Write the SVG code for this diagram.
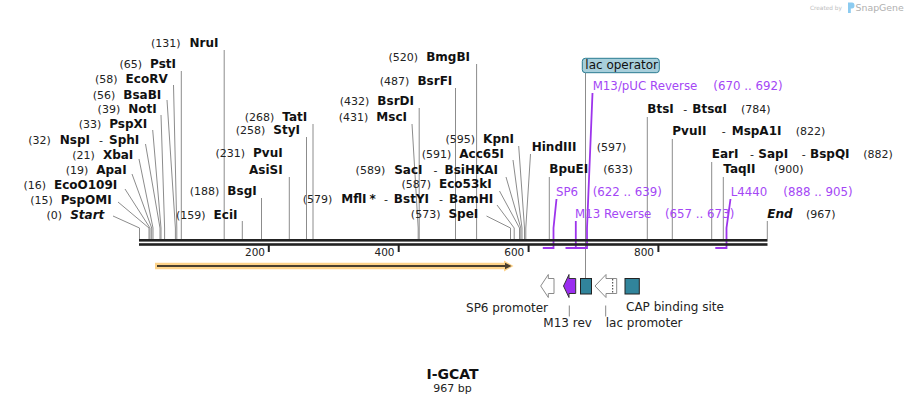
<svg xmlns="http://www.w3.org/2000/svg" width="907" height="405" viewBox="0 0 907 405">
<style>
text{font-family:"DejaVu Sans",Verdana,sans-serif;}
.n{font-size:11px;fill:#222}
.b{font-size:12px;font-weight:bold;fill:#111}
.bi{font-size:12px;font-weight:bold;font-style:italic;fill:#111}
.p{font-size:11.8px;fill:#a447f5}
.f{font-size:12px;fill:#222}
.ax{font-size:10.5px;fill:#222}
.ln{stroke:#8c8c8c;stroke-width:1;fill:none}
.pl{stroke:#9d34ec;stroke-width:1.8;fill:none}
.tk{stroke:#888;stroke-width:1;fill:none}
.teal{fill:#31849b;stroke:#222;stroke-width:1}
.wa{fill:#fff;stroke:#8a8a8a;stroke-width:1}
</style>
<rect width="907" height="405" fill="#fff"/>

<g id="credit">
<text x="810" y="10" style="font-size:5.8px;fill:#bdbdbd">Created by</text>
<path d="M848,2.5 h4 q2.5,0 2.5,3 q0,3 -2.5,3 h-1.2 v4.5 h-2.8 z" fill="#8ccbf0"/>
<text x="855.5" y="11" style="font-size:9.4px;fill:#b0b0b0">SnapGene</text>
</g>

<g id="connectors">
<polyline class="ln" points="113,216 139.5,228 139.5,239"/>
<polyline class="ln" points="118,202 149,228 149,239"/>
<polyline class="ln" points="125,189 150,228 150,239"/>
<polyline class="ln" points="132,174 151.7,228 151.7,239"/>
<polyline class="ln" points="139,159 153,228 153,239"/>
<polyline class="ln" points="145.5,144 160,228 160,239"/>
<polyline class="ln" points="152.7,130 161,228 161,239"/>
<polyline class="ln" points="161,115 164.6,228 164.6,239"/>
<polyline class="ln" points="167,100 175.4,228 175.4,239"/>
<polyline class="ln" points="173.5,85 176.8,228 176.8,239"/>
<polyline class="ln" points="181.3,71 181.3,239"/>
<polyline class="ln" points="224.2,50 224.2,239"/>
<polyline class="ln" points="242.3,221 242.3,239"/>
<polyline class="ln" points="261.5,198 261.5,239"/>
<polyline class="ln" points="289.3,177 289.3,239"/>
<polyline class="ln" points="306.5,137 306.5,239"/>
<polyline class="ln" points="313,124 313,239"/>
<polyline class="ln" points="412,124 418.2,228 418.2,239"/>
<polyline class="ln" points="419.2,108 419.2,239"/>
<polyline class="ln" points="455.5,88 455.5,239"/>
<polyline class="ln" points="476.6,64 476.6,239"/>
<polyline class="ln" points="486.5,216 510.5,228 510.5,239"/>
<polyline class="ln" points="497,205 514.2,228 514.2,239"/>
<polyline class="ln" points="499.5,191 519.5,228 519.5,239"/>
<polyline class="ln" points="506,177 520.8,228 520.8,239"/>
<polyline class="ln" points="513,160 522,228 522,239"/>
<polyline class="ln" points="518.7,146 524.5,228 524.5,239"/>
<polyline class="ln" points="530.5,154 525.8,228 525.8,239"/>
<polyline class="ln" points="549.3,177 549.3,239"/>
<polyline class="ln" points="647.3,117 647.3,239"/>
<polyline class="ln" points="672.3,139 672.3,239"/>
<polyline class="ln" points="711.7,162 711.7,239"/>
<polyline class="ln" points="723.3,177 723.3,239"/>
<polyline class="ln" points="767.3,221 767.3,239"/>
<line class="ln" x1="585.5" y1="73" x2="585.5" y2="278"/>
<line class="tk" x1="569.3" y1="305.5" x2="569.3" y2="316.5"/>
<line class="tk" x1="605.7" y1="305.5" x2="605.7" y2="316.5"/>
<path class="pl" d="M592.5,93 L587,228 L587,248 L573.9,248"/>
<path class="pl" d="M575.8,221 L575.8,248 L565.5,248"/>
<path class="pl" d="M556.5,199 L553.5,228 L553.5,248 L542.8,248"/>
<path class="pl" d="M730.5,199 L726.5,228 L726.5,248 L715.3,248"/>
</g>

<g id="axis">
<rect x="139" y="239" width="628.5" height="2.6" fill="#222"/>
<rect x="139" y="243.2" width="628.5" height="2.6" fill="#222"/>
<rect x="267.8" y="245" width="2" height="7" fill="#222"/>
<rect x="397.7" y="245" width="2" height="7" fill="#222"/>
<rect x="527.6" y="245" width="2" height="7" fill="#222"/>
<rect x="657.4" y="245" width="2" height="7" fill="#222"/>
<text class="ax" x="265" y="255.7" text-anchor="end">200</text>
<text class="ax" x="394.5" y="255.7" text-anchor="end">400</text>
<text class="ax" x="524.3" y="255.7" text-anchor="end">600</text>
<text class="ax" x="654" y="255.7" text-anchor="end">800</text>
</g>

<g id="orf">
<polygon points="155,262.7 504,262.7 504,260.5 513.5,266 504,271.5 504,269.3 155,269.3" fill="#fdd38a"/>
<line x1="157" y1="266" x2="506" y2="266" stroke="#4a3f2e" stroke-width="1.8"/>
<polygon points="505,262.8 511.5,266 505,269.2" fill="#4a3f2e"/>
</g>

<g id="site-Start"><text x="104.3" y="218.7" text-anchor="end"><tspan class="n">(0)</tspan><tspan class="bi" dx="8">Start</tspan></text></g>
<g id="site-PspOMI"><text x="111.7" y="204" text-anchor="end"><tspan class="n">(15)</tspan><tspan class="b" dx="8">PspOMI</tspan></text></g>
<g id="site-EcoO109I"><text x="117.3" y="188.7" text-anchor="end"><tspan class="n">(16)</tspan><tspan class="b" dx="8">EcoO109I</tspan></text></g>
<g id="site-ApaI"><text x="126.7" y="174" text-anchor="end"><tspan class="n">(19)</tspan><tspan class="b" dx="8">ApaI</tspan></text></g>
<g id="site-XbaI"><text x="133.3" y="158.7" text-anchor="end"><tspan class="n">(21)</tspan><tspan class="b" dx="8">XbaI</tspan></text></g>
<g id="site-NspI"><text x="139.3" y="144" text-anchor="end"><tspan class="n">(32)</tspan><tspan class="b" dx="9">NspI</tspan><tspan class="n" dx="9">-</tspan><tspan class="b" dx="6">SphI</tspan></text></g>
<g id="site-PspXI"><text x="147.3" y="128.3" text-anchor="end"><tspan class="n">(33)</tspan><tspan class="b" dx="8">PspXI</tspan></text></g>
<g id="site-NotI"><text x="156.7" y="113.3" text-anchor="end"><tspan class="n">(39)</tspan><tspan class="b" dx="8">NotI</tspan></text></g>
<g id="site-BsaBI"><text x="161.3" y="98.7" text-anchor="end"><tspan class="n">(56)</tspan><tspan class="b" dx="8">BsaBI</tspan></text></g>
<g id="site-EcoRV"><text x="167.7" y="83.3" text-anchor="end"><tspan class="n">(58)</tspan><tspan class="b" dx="8">EcoRV</tspan></text></g>
<g id="site-PstI"><text x="176" y="67.7" text-anchor="end"><tspan class="n">(65)</tspan><tspan class="b" dx="8">PstI</tspan></text></g>
<g id="site-NruI"><text x="218.5" y="46.7" text-anchor="end"><tspan class="n">(131)</tspan><tspan class="b" dx="9">NruI</tspan></text></g>
<g id="site-EciI"><text x="237.5" y="218.5" text-anchor="end"><tspan class="n">(159)</tspan><tspan class="b" dx="8">EciI</tspan></text></g>
<g id="site-BsgI"><text x="256.7" y="195" text-anchor="end"><tspan class="n">(188)</tspan><tspan class="b" dx="8">BsgI</tspan></text></g>
<g id="site-PvuI"><text x="282.7" y="157.3" text-anchor="end"><tspan class="n">(231)</tspan><tspan class="b" dx="8">PvuI</tspan></text>
<text class="b" x="282.7" y="174" text-anchor="end">AsiSI</text></g>
<g id="site-StyI"><text x="300" y="134" text-anchor="end"><tspan class="n">(258)</tspan><tspan class="b" dx="8">StyI</tspan></text></g>
<g id="site-TatI"><text x="307.3" y="121" text-anchor="end"><tspan class="n">(268)</tspan><tspan class="b" dx="8">TatI</tspan></text></g>
<g id="site-MscI"><text x="407" y="121" text-anchor="end"><tspan class="n">(431)</tspan><tspan class="b" dx="8">MscI</tspan></text></g>
<g id="site-BsrDI"><text x="414" y="105" text-anchor="end"><tspan class="n">(432)</tspan><tspan class="b" dx="8">BsrDI</tspan></text></g>
<g id="site-BsrFI"><text x="452.3" y="85" text-anchor="end"><tspan class="n">(487)</tspan><tspan class="b" dx="8">BsrFI</tspan></text></g>
<g id="site-BmgBI"><text x="470" y="60.7" text-anchor="end"><tspan class="n">(520)</tspan><tspan class="b" dx="8">BmgBI</tspan></text></g>
<g id="site-KpnI"><text x="514" y="143.3" text-anchor="end"><tspan class="n">(595)</tspan><tspan class="b" dx="8">KpnI</tspan></text></g>
<g id="site-Acc65I"><text x="504" y="157.7" text-anchor="end"><tspan class="n">(591)</tspan><tspan class="b" dx="8">Acc65I</tspan></text></g>
<g id="site-SacI"><text x="498" y="174" text-anchor="end"><tspan class="n">(589)</tspan><tspan class="b" dx="9">SacI</tspan><tspan class="n" dx="11">-</tspan><tspan class="b" dx="7">BsiHKAI</tspan></text></g>
<g id="site-Eco53kI"><text x="491.7" y="188.3" text-anchor="end"><tspan class="n">(587)</tspan><tspan class="b" dx="8">Eco53kI</tspan></text></g>
<g id="site-MflI"><text x="493.3" y="203.3" text-anchor="end"><tspan class="n">(579)</tspan><tspan class="b" dx="9">MflI</tspan><tspan class="b" dx="3">*</tspan><tspan class="n" dx="8">-</tspan><tspan class="b" dx="6">BstYI</tspan><tspan class="n" dx="10">-</tspan><tspan class="b" dx="6">BamHI</tspan></text></g>
<g id="site-SpeI"><text x="478.3" y="218.3" text-anchor="end"><tspan class="n">(573)</tspan><tspan class="b" dx="8">SpeI</tspan></text></g>

<g id="site-HindIII"><text class="b" x="531.7" y="150.7">HindIII</text><text class="n" x="596.7" y="150.7">(597)</text></g>
<g id="site-BpuEI"><text class="b" x="549.3" y="173.3">BpuEI</text><text class="n" x="603.3" y="173.3">(633)</text></g>
<g id="site-BtsI"><text class="b" x="647.3" y="113.3">BtsI</text><text class="n" x="683.3" y="113.3">-</text><text class="b" x="692.3" y="113.3">BtsαI</text><text class="n" x="741" y="113.3">(784)</text></g>
<g id="site-PvuII"><text class="b" x="672.3" y="135">PvuII</text><text class="n" x="721.7" y="135">-</text><text class="b" x="731.7" y="135">MspA1I</text><text class="n" x="795.7" y="135">(822)</text></g>
<g id="site-EarI"><text class="b" x="711.7" y="158.3">EarI</text><text class="n" x="750" y="158.3">-</text><text class="b" x="758.3" y="158.3">SapI</text><text class="n" x="801.7" y="158.3">-</text><text class="b" x="810" y="158.3">BspQI</text><text class="n" x="863.3" y="158.3">(882)</text></g>
<g id="site-TaqII"><text class="b" x="723.3" y="173.3">TaqII</text><text class="n" x="774" y="173.3">(900)</text></g>
<g id="site-End"><text class="bi" x="767.3" y="217.7">End</text><text class="n" x="806" y="217.7">(967)</text></g>

<g id="primer-M13pUC"><text class="p" x="592.7" y="90">M13/pUC Reverse</text><text class="p" x="713.3" y="90">(670 .. 692)</text></g>
<g id="primer-SP6"><text class="p" x="556" y="196">SP6</text><text class="p" x="592.7" y="196">(622 .. 639)</text></g>
<g id="primer-M13Rev"><text class="p" x="575" y="218.3">M13 Reverse</text><text class="p" x="665" y="218.3">(657 .. 673)</text></g>
<g id="primer-L4440"><text class="p" x="730.7" y="196">L4440</text><text class="p" x="783.3" y="196">(888 .. 905)</text></g>

<g id="lac-operator-label">
<rect x="582.3" y="58.3" width="77" height="14.4" rx="3" fill="#a8cfdb" stroke="#2a7c92" stroke-width="1"/>
<text x="585.3" y="69" style="font-size:12px;fill:#111">lac operator</text>
</g>

<g id="feat-SP6-promoter">
<polygon class="wa" points="540.7,286 548.3,274.5 548.3,278.5 554,278.5 554,293.5 548.3,293.5 548.3,297.5"/>
<text class="f" x="548" y="311.7" text-anchor="end">SP6 promoter</text>
</g>
<g id="feat-M13-rev">
<polygon points="563.5,286 569,274.5 569,278.5 575.7,278.5 575.7,293.5 569,293.5 569,297.5" fill="#9b2df0" stroke="#333" stroke-width="1"/>
<text class="f" x="543.3" y="326.7">M13 rev</text>
</g>
<g id="feat-lac-operator">
<rect class="teal" x="580.5" y="278.5" width="11" height="15.5"/>
</g>
<g id="feat-lac-promoter">
<polygon class="wa" points="595,286 606,274.5 606,278.5 616.7,278.5 616.7,293.5 606,293.5 606,297.5"/>
<line x1="612.7" y1="279" x2="612.7" y2="293" stroke="#333" stroke-width="1" stroke-dasharray="1.5,1.5"/>
<text class="f" x="605.7" y="326.7">lac promoter</text>
</g>
<g id="feat-CAP">
<rect class="teal" x="625" y="278.5" width="14.3" height="15.5"/>
<text class="f" x="626" y="311">CAP binding site</text>
</g>

<g id="title">
<text x="452.5" y="379" text-anchor="middle" style="font-size:14px;font-weight:bold;fill:#111">I-GCAT</text>
<text x="452.5" y="391.7" text-anchor="middle" style="font-size:11px;fill:#222">967 bp</text>
</g>
</svg>
